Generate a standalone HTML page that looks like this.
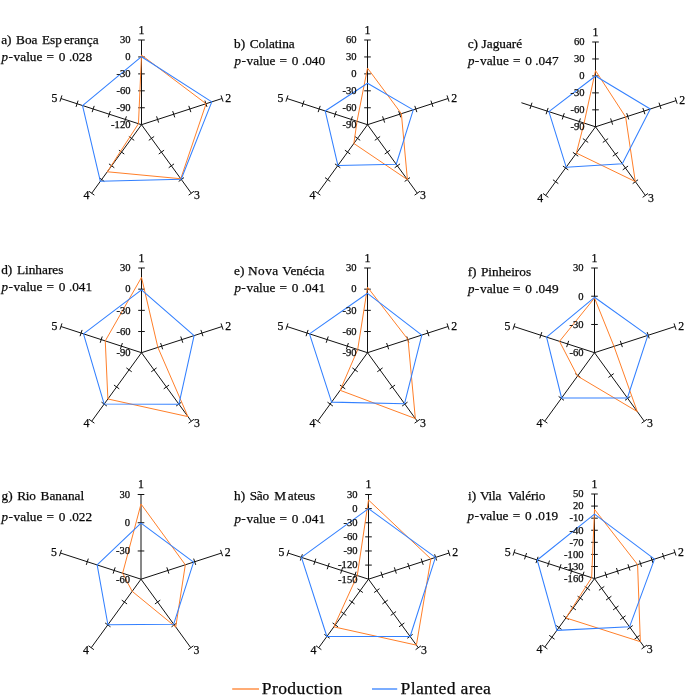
<!DOCTYPE html>
<html><head><meta charset="utf-8"><title>Radar charts</title>
<style>html,body{margin:0;padding:0;background:#fff}svg{display:block}text{font-family:"Liberation Serif",serif;fill:#0a0a0a;stroke:#0a0a0a;stroke-width:0.25px}</style>
</head><body>
<svg width="685" height="698" viewBox="0 0 685 698">
<rect width="100%" height="100%" fill="#fff"/>
<g stroke="#111" stroke-width="1" fill="none"><line x1="141.50" y1="124.70" x2="141.50" y2="40.00"/><line x1="138.20" y1="107.76" x2="144.80" y2="107.76"/><line x1="138.20" y1="90.82" x2="144.80" y2="90.82"/><line x1="138.20" y1="73.88" x2="144.80" y2="73.88"/><line x1="138.20" y1="56.94" x2="144.80" y2="56.94"/><line x1="138.20" y1="40.00" x2="144.80" y2="40.00"/><line x1="141.50" y1="124.70" x2="222.05" y2="98.53"/><line x1="156.59" y1="116.33" x2="158.63" y2="122.60"/><line x1="172.70" y1="111.09" x2="174.74" y2="117.37"/><line x1="188.81" y1="105.86" x2="190.85" y2="112.13"/><line x1="204.92" y1="100.62" x2="206.96" y2="106.90"/><line x1="221.03" y1="95.39" x2="223.07" y2="101.66"/><line x1="141.50" y1="124.70" x2="191.29" y2="193.22"/><line x1="154.13" y1="136.47" x2="148.79" y2="140.34"/><line x1="164.08" y1="150.17" x2="158.74" y2="154.05"/><line x1="174.04" y1="163.87" x2="168.70" y2="167.75"/><line x1="184.00" y1="177.58" x2="178.66" y2="181.46"/><line x1="193.96" y1="191.28" x2="188.62" y2="195.16"/><line x1="141.50" y1="124.70" x2="91.71" y2="193.22"/><line x1="134.21" y1="140.34" x2="128.87" y2="136.47"/><line x1="124.26" y1="154.05" x2="118.92" y2="150.17"/><line x1="114.30" y1="167.75" x2="108.96" y2="163.87"/><line x1="104.34" y1="181.46" x2="99.00" y2="177.58"/><line x1="94.38" y1="195.16" x2="89.04" y2="191.28"/><line x1="141.50" y1="124.70" x2="60.95" y2="98.53"/><line x1="124.37" y1="122.60" x2="126.41" y2="116.33"/><line x1="108.26" y1="117.37" x2="110.30" y2="111.09"/><line x1="92.15" y1="112.13" x2="94.19" y2="105.86"/><line x1="76.04" y1="106.90" x2="78.08" y2="100.62"/><line x1="59.93" y1="101.66" x2="61.97" y2="95.39"/></g>
<polygon points="141.50,55.10 206.08,103.72 180.76,178.74 107.29,171.78 138.46,123.71" fill="none" stroke="#FF7F2A" stroke-width="1.0" stroke-linejoin="round"/>
<polygon points="141.50,56.70 211.78,101.86 181.18,179.31 100.36,181.33 82.53,105.54" fill="none" stroke="#3380FF" stroke-width="1.05" stroke-linejoin="round"/>
<text x="130.50" y="43.30" font-size="10.6" text-anchor="end" stroke-width="0.12">30</text>
<text x="130.50" y="60.24" font-size="10.6" text-anchor="end" stroke-width="0.12">0</text>
<text x="130.50" y="77.18" font-size="10.6" text-anchor="end" stroke-width="0.12">-30</text>
<text x="130.50" y="94.12" font-size="10.6" text-anchor="end" stroke-width="0.12">-60</text>
<text x="130.50" y="111.06" font-size="10.6" text-anchor="end" stroke-width="0.12">-90</text>
<text x="130.50" y="128.00" font-size="10.6" text-anchor="end" stroke-width="0.12">-120</text>
<text x="141.50" y="33.60" font-size="11.8" text-anchor="middle">1</text>
<text x="225.15" y="101.83" font-size="11.8" text-anchor="start">2</text>
<text x="193.89" y="199.42" font-size="11.8" text-anchor="start">3</text>
<text x="89.31" y="199.42" font-size="11.8" text-anchor="end">4</text>
<text x="57.45" y="101.93" font-size="11.8" text-anchor="end">5</text>
<text y="43.8" font-size="13.3"><tspan x="1.20">a)</tspan> <tspan x="16.10">Boa</tspan> <tspan x="42.00">Esp</tspan><tspan x="63.90">erança</tspan></text>
<text y="60.90" font-size="13.3"><tspan x="1.50" font-style="italic" font-size="13">p</tspan><tspan x="8.40">-</tspan><tspan x="13.60">value</tspan> <tspan x="46.60">=</tspan> <tspan x="58.80">0</tspan><tspan x="68.90">.028</tspan></text>
<g stroke="#111" stroke-width="1" fill="none"><line x1="367.50" y1="124.70" x2="367.50" y2="40.00"/><line x1="364.20" y1="107.76" x2="370.80" y2="107.76"/><line x1="364.20" y1="90.82" x2="370.80" y2="90.82"/><line x1="364.20" y1="73.88" x2="370.80" y2="73.88"/><line x1="364.20" y1="56.94" x2="370.80" y2="56.94"/><line x1="364.20" y1="40.00" x2="370.80" y2="40.00"/><line x1="367.50" y1="124.70" x2="448.05" y2="98.53"/><line x1="382.59" y1="116.33" x2="384.63" y2="122.60"/><line x1="398.70" y1="111.09" x2="400.74" y2="117.37"/><line x1="414.81" y1="105.86" x2="416.85" y2="112.13"/><line x1="430.92" y1="100.62" x2="432.96" y2="106.90"/><line x1="447.03" y1="95.39" x2="449.07" y2="101.66"/><line x1="367.50" y1="124.70" x2="417.29" y2="193.22"/><line x1="380.13" y1="136.47" x2="374.79" y2="140.34"/><line x1="390.08" y1="150.17" x2="384.74" y2="154.05"/><line x1="400.04" y1="163.87" x2="394.70" y2="167.75"/><line x1="410.00" y1="177.58" x2="404.66" y2="181.46"/><line x1="419.96" y1="191.28" x2="414.62" y2="195.16"/><line x1="367.50" y1="124.70" x2="317.71" y2="193.22"/><line x1="360.21" y1="140.34" x2="354.87" y2="136.47"/><line x1="350.26" y1="154.05" x2="344.92" y2="150.17"/><line x1="340.30" y1="167.75" x2="334.96" y2="163.87"/><line x1="330.34" y1="181.46" x2="325.00" y2="177.58"/><line x1="320.38" y1="195.16" x2="315.04" y2="191.28"/><line x1="367.50" y1="124.70" x2="286.95" y2="98.53"/><line x1="350.37" y1="122.60" x2="352.41" y2="116.33"/><line x1="334.26" y1="117.37" x2="336.30" y2="111.09"/><line x1="318.15" y1="112.13" x2="320.19" y2="105.86"/><line x1="302.04" y1="106.90" x2="304.08" y2="100.62"/><line x1="285.93" y1="101.66" x2="287.97" y2="95.39"/></g>
<polygon points="367.50,68.10 401.36,113.70 407.41,179.63 353.86,143.47 357.04,121.30" fill="none" stroke="#FF7F2A" stroke-width="1.0" stroke-linejoin="round"/>
<polygon points="367.50,83.20 413.25,109.84 396.24,164.26 337.88,165.47 325.18,110.95" fill="none" stroke="#3380FF" stroke-width="1.05" stroke-linejoin="round"/>
<text x="356.50" y="43.30" font-size="10.6" text-anchor="end" stroke-width="0.12">60</text>
<text x="356.50" y="60.24" font-size="10.6" text-anchor="end" stroke-width="0.12">30</text>
<text x="356.50" y="77.18" font-size="10.6" text-anchor="end" stroke-width="0.12">0</text>
<text x="356.50" y="94.12" font-size="10.6" text-anchor="end" stroke-width="0.12">-30</text>
<text x="356.50" y="111.06" font-size="10.6" text-anchor="end" stroke-width="0.12">-60</text>
<text x="356.50" y="128.00" font-size="10.6" text-anchor="end" stroke-width="0.12">-90</text>
<text x="367.50" y="33.60" font-size="11.8" text-anchor="middle">1</text>
<text x="451.15" y="101.83" font-size="11.8" text-anchor="start">2</text>
<text x="419.89" y="199.42" font-size="11.8" text-anchor="start">3</text>
<text x="315.31" y="199.42" font-size="11.8" text-anchor="end">4</text>
<text x="283.45" y="101.93" font-size="11.8" text-anchor="end">5</text>
<text y="47.7" font-size="13.3"><tspan x="234.10">b)</tspan> <tspan x="249.70">Colatina</tspan></text>
<text y="64.70" font-size="13.3"><tspan x="234.50" font-style="italic" font-size="13">p</tspan><tspan x="241.40">-</tspan><tspan x="246.60">value</tspan> <tspan x="279.60">=</tspan> <tspan x="291.80">0</tspan><tspan x="301.90">.040</tspan></text>
<g stroke="#111" stroke-width="1" fill="none"><line x1="595.50" y1="126.80" x2="595.50" y2="42.00"/><line x1="592.20" y1="109.84" x2="598.80" y2="109.84"/><line x1="592.20" y1="92.88" x2="598.80" y2="92.88"/><line x1="592.20" y1="75.92" x2="598.80" y2="75.92"/><line x1="592.20" y1="58.96" x2="598.80" y2="58.96"/><line x1="592.20" y1="42.00" x2="598.80" y2="42.00"/><line x1="595.50" y1="126.80" x2="676.15" y2="100.60"/><line x1="610.61" y1="118.42" x2="612.65" y2="124.70"/><line x1="626.74" y1="113.18" x2="628.78" y2="119.46"/><line x1="642.87" y1="107.94" x2="644.91" y2="114.22"/><line x1="659.00" y1="102.70" x2="661.04" y2="108.97"/><line x1="675.13" y1="97.46" x2="677.17" y2="103.73"/><line x1="595.50" y1="126.80" x2="645.34" y2="195.40"/><line x1="608.14" y1="138.58" x2="602.80" y2="142.46"/><line x1="618.11" y1="152.30" x2="612.77" y2="156.18"/><line x1="628.08" y1="166.02" x2="622.74" y2="169.90"/><line x1="638.05" y1="179.74" x2="632.71" y2="183.62"/><line x1="648.01" y1="193.46" x2="642.67" y2="197.34"/><line x1="595.50" y1="126.80" x2="545.66" y2="195.40"/><line x1="588.20" y1="142.46" x2="582.86" y2="138.58"/><line x1="578.23" y1="156.18" x2="572.89" y2="152.30"/><line x1="568.26" y1="169.90" x2="562.92" y2="166.02"/><line x1="558.29" y1="183.62" x2="552.95" y2="179.74"/><line x1="548.33" y1="197.34" x2="542.99" y2="193.46"/><line x1="595.50" y1="126.80" x2="521.40" y2="102.72"/><line x1="578.35" y1="124.70" x2="580.39" y2="118.42"/><line x1="562.22" y1="119.46" x2="564.26" y2="113.18"/><line x1="546.09" y1="114.22" x2="548.13" y2="107.94"/><line x1="529.96" y1="108.97" x2="532.00" y2="102.70"/></g>
<polygon points="595.50,70.60 625.65,117.00 635.29,181.57 576.40,153.09 584.09,123.09" fill="none" stroke="#FF7F2A" stroke-width="1.0" stroke-linejoin="round"/>
<polygon points="595.50,76.00 650.28,109.00 622.30,163.69 566.17,167.17 548.90,111.66" fill="none" stroke="#3380FF" stroke-width="1.05" stroke-linejoin="round"/>
<text x="584.50" y="45.30" font-size="10.6" text-anchor="end" stroke-width="0.12">60</text>
<text x="584.50" y="62.26" font-size="10.6" text-anchor="end" stroke-width="0.12">30</text>
<text x="584.50" y="79.22" font-size="10.6" text-anchor="end" stroke-width="0.12">0</text>
<text x="584.50" y="96.18" font-size="10.6" text-anchor="end" stroke-width="0.12">-30</text>
<text x="584.50" y="113.14" font-size="10.6" text-anchor="end" stroke-width="0.12">-60</text>
<text x="584.50" y="130.10" font-size="10.6" text-anchor="end" stroke-width="0.12">-90</text>
<text x="595.50" y="35.60" font-size="11.8" text-anchor="middle">1</text>
<text x="679.25" y="103.90" font-size="11.8" text-anchor="start">2</text>
<text x="647.94" y="201.60" font-size="11.8" text-anchor="start">3</text>
<text x="543.26" y="201.60" font-size="11.8" text-anchor="end">4</text>
<text y="47.7" font-size="13.3"><tspan x="467.70">c)</tspan> <tspan x="481.60">Jaguaré</tspan></text>
<text y="64.70" font-size="13.3"><tspan x="467.90" font-style="italic" font-size="13">p</tspan><tspan x="474.80">-</tspan><tspan x="480.00">value</tspan> <tspan x="513.00">=</tspan> <tspan x="525.20">0</tspan><tspan x="535.30">.047</tspan></text>
<g stroke="#111" stroke-width="1" fill="none"><line x1="141.50" y1="352.70" x2="141.50" y2="268.00"/><line x1="138.20" y1="331.52" x2="144.80" y2="331.52"/><line x1="138.20" y1="310.35" x2="144.80" y2="310.35"/><line x1="138.20" y1="289.17" x2="144.80" y2="289.17"/><line x1="138.20" y1="268.00" x2="144.80" y2="268.00"/><line x1="141.50" y1="352.70" x2="222.05" y2="326.53"/><line x1="160.62" y1="343.02" x2="162.66" y2="349.30"/><line x1="180.76" y1="336.47" x2="182.80" y2="342.75"/><line x1="200.90" y1="329.93" x2="202.94" y2="336.21"/><line x1="221.03" y1="323.39" x2="223.07" y2="329.66"/><line x1="141.50" y1="352.70" x2="191.29" y2="421.22"/><line x1="156.62" y1="367.89" x2="151.28" y2="371.77"/><line x1="169.06" y1="385.02" x2="163.72" y2="388.90"/><line x1="181.51" y1="402.15" x2="176.17" y2="406.03"/><line x1="193.96" y1="419.28" x2="188.62" y2="423.16"/><line x1="141.50" y1="352.70" x2="91.71" y2="421.22"/><line x1="131.72" y1="371.77" x2="126.38" y2="367.89"/><line x1="119.28" y1="388.90" x2="113.94" y2="385.02"/><line x1="106.83" y1="406.03" x2="101.49" y2="402.15"/><line x1="94.38" y1="423.16" x2="89.04" y2="419.28"/><line x1="141.50" y1="352.70" x2="60.95" y2="326.53"/><line x1="120.34" y1="349.30" x2="122.38" y2="343.02"/><line x1="100.20" y1="342.75" x2="102.24" y2="336.47"/><line x1="80.06" y1="336.21" x2="82.10" y2="329.93"/><line x1="59.93" y1="329.66" x2="61.97" y2="323.39"/></g>
<polygon points="141.50,277.40 157.86,347.38 187.94,416.61 107.88,398.98 105.26,340.93" fill="none" stroke="#FF7F2A" stroke-width="1.0" stroke-linejoin="round"/>
<polygon points="141.50,289.90 194.09,335.61 178.94,404.23 104.18,404.07 83.49,333.85" fill="none" stroke="#3380FF" stroke-width="1.05" stroke-linejoin="round"/>
<text x="130.50" y="271.30" font-size="10.6" text-anchor="end" stroke-width="0.12">30</text>
<text x="130.50" y="292.48" font-size="10.6" text-anchor="end" stroke-width="0.12">0</text>
<text x="130.50" y="313.65" font-size="10.6" text-anchor="end" stroke-width="0.12">-30</text>
<text x="130.50" y="334.82" font-size="10.6" text-anchor="end" stroke-width="0.12">-60</text>
<text x="130.50" y="356.00" font-size="10.6" text-anchor="end" stroke-width="0.12">-90</text>
<text x="141.50" y="261.60" font-size="11.8" text-anchor="middle">1</text>
<text x="225.15" y="329.83" font-size="11.8" text-anchor="start">2</text>
<text x="193.89" y="427.42" font-size="11.8" text-anchor="start">3</text>
<text x="89.31" y="427.42" font-size="11.8" text-anchor="end">4</text>
<text x="57.45" y="329.93" font-size="11.8" text-anchor="end">5</text>
<text y="273.8" font-size="13.3"><tspan x="1.20">d)</tspan> <tspan x="16.90">Linhares</tspan></text>
<text y="291.20" font-size="13.3"><tspan x="1.50" font-style="italic" font-size="13">p</tspan><tspan x="8.40">-</tspan><tspan x="13.60">value</tspan> <tspan x="46.60">=</tspan> <tspan x="58.80">0</tspan><tspan x="68.90">.041</tspan></text>
<g stroke="#111" stroke-width="1" fill="none"><line x1="367.50" y1="352.70" x2="367.50" y2="268.00"/><line x1="364.20" y1="331.52" x2="370.80" y2="331.52"/><line x1="364.20" y1="310.35" x2="370.80" y2="310.35"/><line x1="364.20" y1="289.17" x2="370.80" y2="289.17"/><line x1="364.20" y1="268.00" x2="370.80" y2="268.00"/><line x1="367.50" y1="352.70" x2="448.05" y2="326.53"/><line x1="386.62" y1="343.02" x2="388.66" y2="349.30"/><line x1="406.76" y1="336.47" x2="408.80" y2="342.75"/><line x1="426.90" y1="329.93" x2="428.94" y2="336.21"/><line x1="447.03" y1="323.39" x2="449.07" y2="329.66"/><line x1="367.50" y1="352.70" x2="417.29" y2="421.22"/><line x1="382.62" y1="367.89" x2="377.28" y2="371.77"/><line x1="395.06" y1="385.02" x2="389.72" y2="388.90"/><line x1="407.51" y1="402.15" x2="402.17" y2="406.03"/><line x1="419.96" y1="419.28" x2="414.62" y2="423.16"/><line x1="367.50" y1="352.70" x2="317.71" y2="421.22"/><line x1="357.72" y1="371.77" x2="352.38" y2="367.89"/><line x1="345.28" y1="388.90" x2="339.94" y2="385.02"/><line x1="332.83" y1="406.03" x2="327.49" y2="402.15"/><line x1="320.38" y1="423.16" x2="315.04" y2="419.28"/><line x1="367.50" y1="352.70" x2="286.95" y2="326.53"/><line x1="346.34" y1="349.30" x2="348.38" y2="343.02"/><line x1="326.20" y1="342.75" x2="328.24" y2="336.47"/><line x1="306.06" y1="336.21" x2="308.10" y2="329.93"/><line x1="285.93" y1="329.66" x2="287.97" y2="323.39"/></g>
<polygon points="367.50,287.20 408.02,339.54 415.35,418.55 340.17,390.32 357.70,349.52" fill="none" stroke="#FF7F2A" stroke-width="1.0" stroke-linejoin="round"/>
<polygon points="367.50,293.30 421.81,335.06 404.53,403.67 331.59,402.13 309.49,333.85" fill="none" stroke="#3380FF" stroke-width="1.05" stroke-linejoin="round"/>
<text x="356.50" y="271.30" font-size="10.6" text-anchor="end" stroke-width="0.12">30</text>
<text x="356.50" y="292.48" font-size="10.6" text-anchor="end" stroke-width="0.12">0</text>
<text x="356.50" y="313.65" font-size="10.6" text-anchor="end" stroke-width="0.12">-30</text>
<text x="356.50" y="334.82" font-size="10.6" text-anchor="end" stroke-width="0.12">-60</text>
<text x="356.50" y="356.00" font-size="10.6" text-anchor="end" stroke-width="0.12">-90</text>
<text x="367.50" y="261.60" font-size="11.8" text-anchor="middle">1</text>
<text x="451.15" y="329.83" font-size="11.8" text-anchor="start">2</text>
<text x="419.89" y="427.42" font-size="11.8" text-anchor="start">3</text>
<text x="315.31" y="427.42" font-size="11.8" text-anchor="end">4</text>
<text x="283.45" y="329.93" font-size="11.8" text-anchor="end">5</text>
<text y="274.7" font-size="13.3"><tspan x="234.10">e)</tspan> <tspan x="247.90" letter-spacing="0.5">Nova</tspan> <tspan x="282.30">Venécia</tspan></text>
<text y="292.30" font-size="13.3"><tspan x="234.40" font-style="italic" font-size="13">p</tspan><tspan x="241.30">-</tspan><tspan x="246.50">value</tspan> <tspan x="279.50">=</tspan> <tspan x="291.70">0</tspan><tspan x="301.80">.041</tspan></text>
<g stroke="#111" stroke-width="1" fill="none"><line x1="594.50" y1="352.70" x2="594.50" y2="268.00"/><line x1="591.20" y1="324.47" x2="597.80" y2="324.47"/><line x1="591.20" y1="296.23" x2="597.80" y2="296.23"/><line x1="591.20" y1="268.00" x2="597.80" y2="268.00"/><line x1="594.50" y1="352.70" x2="675.05" y2="326.53"/><line x1="620.33" y1="340.84" x2="622.37" y2="347.11"/><line x1="647.18" y1="332.11" x2="649.22" y2="338.39"/><line x1="674.03" y1="323.39" x2="676.07" y2="329.66"/><line x1="594.50" y1="352.70" x2="644.29" y2="421.22"/><line x1="613.76" y1="373.60" x2="608.43" y2="377.48"/><line x1="630.36" y1="396.44" x2="625.02" y2="400.32"/><line x1="646.96" y1="419.28" x2="641.62" y2="423.16"/><line x1="594.50" y1="352.70" x2="544.71" y2="421.22"/><line x1="580.57" y1="377.48" x2="575.24" y2="373.60"/><line x1="563.98" y1="400.32" x2="558.64" y2="396.44"/><line x1="547.38" y1="423.16" x2="542.04" y2="419.28"/><line x1="594.50" y1="352.70" x2="513.95" y2="326.53"/><line x1="566.63" y1="347.11" x2="568.67" y2="340.84"/><line x1="539.78" y1="338.39" x2="541.82" y2="332.11"/><line x1="512.93" y1="329.66" x2="514.97" y2="323.39"/></g>
<polygon points="594.50,298.00 614.00,346.37 637.29,411.60 577.51,376.08 559.50,341.33" fill="none" stroke="#FF7F2A" stroke-width="1.0" stroke-linejoin="round"/>
<polygon points="594.50,297.30 647.85,335.36 627.42,398.00 561.58,398.00 546.57,337.13" fill="none" stroke="#3380FF" stroke-width="1.05" stroke-linejoin="round"/>
<text x="583.50" y="271.30" font-size="10.6" text-anchor="end" stroke-width="0.12">30</text>
<text x="583.50" y="299.53" font-size="10.6" text-anchor="end" stroke-width="0.12">0</text>
<text x="583.50" y="327.77" font-size="10.6" text-anchor="end" stroke-width="0.12">-30</text>
<text x="583.50" y="356.00" font-size="10.6" text-anchor="end" stroke-width="0.12">-60</text>
<text x="594.50" y="261.60" font-size="11.8" text-anchor="middle">1</text>
<text x="678.15" y="329.83" font-size="11.8" text-anchor="start">2</text>
<text x="646.89" y="427.42" font-size="11.8" text-anchor="start">3</text>
<text x="542.31" y="427.42" font-size="11.8" text-anchor="end">4</text>
<text x="510.45" y="329.93" font-size="11.8" text-anchor="end">5</text>
<text y="275.7" font-size="13.3"><tspan x="467.70">f)</tspan> <tspan x="480.90">Pinheiros</tspan></text>
<text y="293.00" font-size="13.3"><tspan x="467.90" font-style="italic" font-size="13">p</tspan><tspan x="474.80">-</tspan><tspan x="480.00">value</tspan> <tspan x="513.00">=</tspan> <tspan x="525.20">0</tspan><tspan x="535.30">.049</tspan></text>
<g stroke="#111" stroke-width="1" fill="none"><line x1="141.00" y1="579.20" x2="141.00" y2="494.50"/><line x1="137.70" y1="550.97" x2="144.30" y2="550.97"/><line x1="137.70" y1="522.73" x2="144.30" y2="522.73"/><line x1="137.70" y1="494.50" x2="144.30" y2="494.50"/><line x1="141.00" y1="579.20" x2="221.55" y2="553.03"/><line x1="166.83" y1="567.34" x2="168.87" y2="573.61"/><line x1="193.68" y1="558.61" x2="195.72" y2="564.89"/><line x1="220.53" y1="549.89" x2="222.57" y2="556.16"/><line x1="141.00" y1="579.20" x2="190.79" y2="647.72"/><line x1="160.26" y1="600.10" x2="154.93" y2="603.98"/><line x1="176.86" y1="622.94" x2="171.52" y2="626.82"/><line x1="193.46" y1="645.78" x2="188.12" y2="649.66"/><line x1="141.00" y1="579.20" x2="91.21" y2="647.72"/><line x1="127.07" y1="603.98" x2="121.74" y2="600.10"/><line x1="110.48" y1="626.82" x2="105.14" y2="622.94"/><line x1="93.88" y1="649.66" x2="88.54" y2="645.78"/><line x1="141.00" y1="579.20" x2="60.45" y2="553.03"/><line x1="113.13" y1="573.61" x2="115.17" y2="567.34"/><line x1="86.28" y1="564.89" x2="88.32" y2="558.61"/><line x1="59.43" y1="556.16" x2="61.47" y2="549.89"/></g>
<polygon points="141.00,504.00 185.32,564.80 175.74,627.01 132.18,591.34 122.64,573.24" fill="none" stroke="#FF7F2A" stroke-width="1.0" stroke-linejoin="round"/>
<polygon points="141.00,523.10 193.59,562.11 173.68,624.18 107.91,624.75 97.16,564.95" fill="none" stroke="#3380FF" stroke-width="1.05" stroke-linejoin="round"/>
<text x="130.00" y="497.80" font-size="10.6" text-anchor="end" stroke-width="0.12">30</text>
<text x="130.00" y="526.03" font-size="10.6" text-anchor="end" stroke-width="0.12">0</text>
<text x="130.00" y="554.27" font-size="10.6" text-anchor="end" stroke-width="0.12">-30</text>
<text x="130.00" y="582.50" font-size="10.6" text-anchor="end" stroke-width="0.12">-60</text>
<text x="141.00" y="488.10" font-size="11.8" text-anchor="middle">1</text>
<text x="224.65" y="556.33" font-size="11.8" text-anchor="start">2</text>
<text x="193.39" y="653.92" font-size="11.8" text-anchor="start">3</text>
<text x="88.81" y="653.92" font-size="11.8" text-anchor="end">4</text>
<text x="56.95" y="556.43" font-size="11.8" text-anchor="end">5</text>
<text y="500.4" font-size="13.3"><tspan x="1.50">g)</tspan> <tspan x="17.20" letter-spacing="-0.3">Rio</tspan> <tspan x="40.60">Bananal</tspan></text>
<text y="521.30" font-size="13.3"><tspan x="1.50" font-style="italic" font-size="13">p</tspan><tspan x="8.40">-</tspan><tspan x="13.60">value</tspan> <tspan x="46.60">=</tspan> <tspan x="58.80">0</tspan><tspan x="68.90">.022</tspan></text>
<g stroke="#111" stroke-width="1" fill="none"><line x1="368.50" y1="579.20" x2="368.50" y2="494.50"/><line x1="365.20" y1="565.08" x2="371.80" y2="565.08"/><line x1="365.20" y1="550.97" x2="371.80" y2="550.97"/><line x1="365.20" y1="536.85" x2="371.80" y2="536.85"/><line x1="365.20" y1="522.73" x2="371.80" y2="522.73"/><line x1="365.20" y1="508.62" x2="371.80" y2="508.62"/><line x1="365.20" y1="494.50" x2="371.80" y2="494.50"/><line x1="368.50" y1="579.20" x2="449.05" y2="553.03"/><line x1="380.91" y1="571.70" x2="382.95" y2="577.98"/><line x1="394.33" y1="567.34" x2="396.37" y2="573.61"/><line x1="407.76" y1="562.97" x2="409.80" y2="569.25"/><line x1="421.18" y1="558.61" x2="423.22" y2="564.89"/><line x1="434.61" y1="554.25" x2="436.65" y2="560.53"/><line x1="448.03" y1="549.89" x2="450.07" y2="556.16"/><line x1="368.50" y1="579.20" x2="418.29" y2="647.72"/><line x1="379.47" y1="588.68" x2="374.13" y2="592.56"/><line x1="387.76" y1="600.10" x2="382.43" y2="603.98"/><line x1="396.06" y1="611.52" x2="390.72" y2="615.40"/><line x1="404.36" y1="622.94" x2="399.02" y2="626.82"/><line x1="412.66" y1="634.36" x2="407.32" y2="638.24"/><line x1="420.96" y1="645.78" x2="415.62" y2="649.66"/><line x1="368.50" y1="579.20" x2="318.71" y2="647.72"/><line x1="362.87" y1="592.56" x2="357.53" y2="588.68"/><line x1="354.57" y1="603.98" x2="349.24" y2="600.10"/><line x1="346.28" y1="615.40" x2="340.94" y2="611.52"/><line x1="337.98" y1="626.82" x2="332.64" y2="622.94"/><line x1="329.68" y1="638.24" x2="324.34" y2="634.36"/><line x1="321.38" y1="649.66" x2="316.04" y2="645.78"/><line x1="368.50" y1="579.20" x2="287.95" y2="553.03"/><line x1="354.05" y1="577.98" x2="356.09" y2="571.70"/><line x1="340.63" y1="573.61" x2="342.67" y2="567.34"/><line x1="327.20" y1="569.25" x2="329.24" y2="562.97"/><line x1="313.78" y1="564.89" x2="315.82" y2="558.61"/><line x1="300.35" y1="560.53" x2="302.39" y2="554.25"/><line x1="286.93" y1="556.16" x2="288.97" y2="549.89"/></g>
<polygon points="368.50,500.00 430.89,558.93 416.40,645.13 333.88,626.85 357.28,575.55" fill="none" stroke="#FF7F2A" stroke-width="1.0" stroke-linejoin="round"/>
<polygon points="368.50,508.70 435.45,557.45 410.12,636.48 326.88,636.48 301.45,557.41" fill="none" stroke="#3380FF" stroke-width="1.05" stroke-linejoin="round"/>
<text x="357.50" y="497.80" font-size="10.6" text-anchor="end" stroke-width="0.12">30</text>
<text x="357.50" y="511.92" font-size="10.6" text-anchor="end" stroke-width="0.12">0</text>
<text x="357.50" y="526.03" font-size="10.6" text-anchor="end" stroke-width="0.12">-30</text>
<text x="357.50" y="540.15" font-size="10.6" text-anchor="end" stroke-width="0.12">-60</text>
<text x="357.50" y="554.27" font-size="10.6" text-anchor="end" stroke-width="0.12">-90</text>
<text x="357.50" y="568.38" font-size="10.6" text-anchor="end" stroke-width="0.12">-120</text>
<text x="357.50" y="582.50" font-size="10.6" text-anchor="end" stroke-width="0.12">-150</text>
<text x="368.50" y="488.10" font-size="11.8" text-anchor="middle">1</text>
<text x="452.15" y="556.33" font-size="11.8" text-anchor="start">2</text>
<text x="420.89" y="653.92" font-size="11.8" text-anchor="start">3</text>
<text x="316.31" y="653.92" font-size="11.8" text-anchor="end">4</text>
<text x="284.45" y="556.43" font-size="11.8" text-anchor="end">5</text>
<text y="500.4" font-size="13.3"><tspan x="234.10">h)</tspan> <tspan x="249.70" letter-spacing="-0.3">São</tspan> <tspan x="274.20">M</tspan><tspan x="287.80">ateus</tspan></text>
<text y="523.20" font-size="13.3"><tspan x="234.40" font-style="italic" font-size="13">p</tspan><tspan x="241.30">-</tspan><tspan x="246.50">value</tspan> <tspan x="279.50">=</tspan> <tspan x="291.70">0</tspan><tspan x="301.80">.041</tspan></text>
<g stroke="#111" stroke-width="1" fill="none"><line x1="594.50" y1="578.60" x2="594.50" y2="494.00"/><line x1="591.20" y1="566.51" x2="597.80" y2="566.51"/><line x1="591.20" y1="554.43" x2="597.80" y2="554.43"/><line x1="591.20" y1="542.34" x2="597.80" y2="542.34"/><line x1="591.20" y1="530.26" x2="597.80" y2="530.26"/><line x1="591.20" y1="518.17" x2="597.80" y2="518.17"/><line x1="591.20" y1="506.09" x2="597.80" y2="506.09"/><line x1="591.20" y1="494.00" x2="597.80" y2="494.00"/><line x1="594.50" y1="578.60" x2="674.96" y2="552.46"/><line x1="604.97" y1="571.73" x2="607.01" y2="578.00"/><line x1="616.47" y1="567.99" x2="618.51" y2="574.27"/><line x1="627.96" y1="564.26" x2="630.00" y2="570.53"/><line x1="639.46" y1="560.52" x2="641.50" y2="566.80"/><line x1="650.95" y1="556.79" x2="652.99" y2="563.07"/><line x1="662.45" y1="553.05" x2="664.48" y2="559.33"/><line x1="673.94" y1="549.32" x2="675.98" y2="555.60"/><line x1="594.50" y1="578.60" x2="644.23" y2="647.04"/><line x1="604.27" y1="586.44" x2="598.93" y2="590.32"/><line x1="611.38" y1="596.22" x2="606.04" y2="600.09"/><line x1="618.48" y1="605.99" x2="613.14" y2="609.87"/><line x1="625.58" y1="615.77" x2="620.25" y2="619.65"/><line x1="632.69" y1="625.55" x2="627.35" y2="629.43"/><line x1="639.79" y1="635.33" x2="634.45" y2="639.20"/><line x1="646.90" y1="645.10" x2="641.56" y2="648.98"/><line x1="594.50" y1="578.60" x2="544.77" y2="647.04"/><line x1="590.07" y1="590.32" x2="584.73" y2="586.44"/><line x1="582.96" y1="600.09" x2="577.62" y2="596.22"/><line x1="575.86" y1="609.87" x2="570.52" y2="605.99"/><line x1="568.75" y1="619.65" x2="563.42" y2="615.77"/><line x1="561.65" y1="629.43" x2="556.31" y2="625.55"/><line x1="554.55" y1="639.20" x2="549.21" y2="635.33"/><line x1="547.44" y1="648.98" x2="542.10" y2="645.10"/><line x1="594.50" y1="578.60" x2="514.04" y2="552.46"/><line x1="581.99" y1="578.00" x2="584.03" y2="571.73"/><line x1="570.49" y1="574.27" x2="572.53" y2="567.99"/><line x1="559.00" y1="570.53" x2="561.04" y2="564.26"/><line x1="547.50" y1="566.80" x2="549.54" y2="560.52"/><line x1="536.01" y1="563.07" x2="538.05" y2="556.79"/><line x1="524.52" y1="559.33" x2="526.55" y2="553.05"/><line x1="513.02" y1="555.60" x2="515.06" y2="549.32"/></g>
<polygon points="594.50,509.40 637.58,564.60 640.35,641.70 565.93,617.92 591.65,577.67" fill="none" stroke="#FF7F2A" stroke-width="1.0" stroke-linejoin="round"/>
<polygon points="594.50,514.20 654.51,559.10 629.53,626.82 556.88,630.38 537.25,560.00" fill="none" stroke="#3380FF" stroke-width="1.05" stroke-linejoin="round"/>
<text x="583.50" y="497.30" font-size="10.6" text-anchor="end" stroke-width="0.12">50</text>
<text x="583.50" y="509.39" font-size="10.6" text-anchor="end" stroke-width="0.12">20</text>
<text x="583.50" y="521.47" font-size="10.6" text-anchor="end" stroke-width="0.12">-10</text>
<text x="583.50" y="533.56" font-size="10.6" text-anchor="end" stroke-width="0.12">-40</text>
<text x="583.50" y="545.64" font-size="10.6" text-anchor="end" stroke-width="0.12">-70</text>
<text x="583.50" y="557.73" font-size="10.6" text-anchor="end" stroke-width="0.12">-100</text>
<text x="583.50" y="569.81" font-size="10.6" text-anchor="end" stroke-width="0.12">-130</text>
<text x="583.50" y="581.90" font-size="10.6" text-anchor="end" stroke-width="0.12">-160</text>
<text x="594.50" y="487.60" font-size="11.8" text-anchor="middle">1</text>
<text x="678.06" y="555.76" font-size="11.8" text-anchor="start">2</text>
<text x="646.83" y="653.24" font-size="11.8" text-anchor="start">3</text>
<text x="542.37" y="653.24" font-size="11.8" text-anchor="end">4</text>
<text x="510.54" y="555.86" font-size="11.8" text-anchor="end">5</text>
<text y="500" font-size="13.3"><tspan x="468.00">i)</tspan> <tspan x="480.10" letter-spacing="-0.3">Vila</tspan> <tspan x="507.90" letter-spacing="-0.15">Valério</tspan></text>
<text y="520.30" font-size="13.3"><tspan x="467.60" font-style="italic" font-size="13">p</tspan><tspan x="474.50">-</tspan><tspan x="479.70">value</tspan> <tspan x="512.70">=</tspan> <tspan x="524.90">0</tspan><tspan x="535.00">.019</tspan></text>
<line x1="232.2" y1="689" x2="259" y2="689" stroke="#FF7F2A" stroke-width="1.3"/>
<text x="261.8" y="694.1" font-size="17.6" letter-spacing="0.36">Production</text>
<line x1="372" y1="689" x2="397.2" y2="689" stroke="#3380FF" stroke-width="1.3"/>
<text x="400.5" y="694.1" font-size="17.6" letter-spacing="0.36">Planted area</text>
</svg>
</body></html>
